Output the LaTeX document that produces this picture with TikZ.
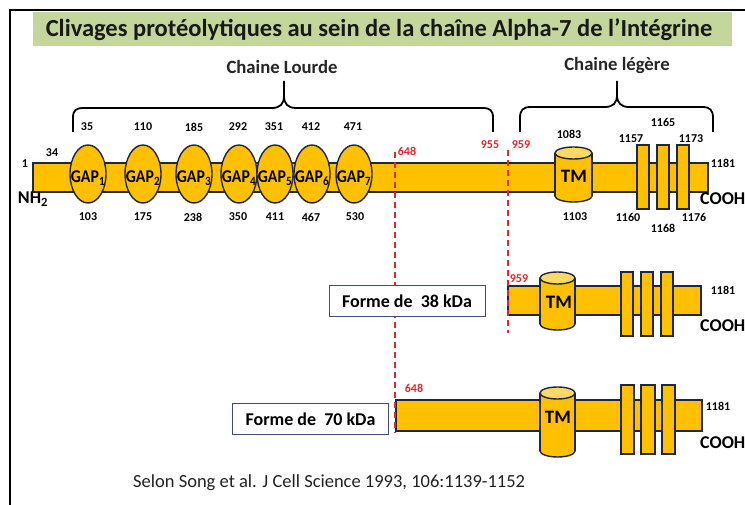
\documentclass[tikz,border=0pt]{standalone}
\usepackage{fontspec}
\setmainfont{Carlito}
\newfontfamily\gapfont[FakeStretch=0.88]{Carlito}
\usetikzlibrary{shapes.geometric}
\definecolor{gold}{HTML}{FFC000}
\definecolor{goldtop}{HTML}{FFD966}
\definecolor{outl}{HTML}{1E2640}
\definecolor{redc}{HTML}{E3262B}
\definecolor{titlegreen}{HTML}{C3D69B}
\definecolor{boxline}{HTML}{3F4F6F}
\definecolor{citec}{HTML}{222222}
\newcommand{\tmcyl}[4]{%
  \filldraw[fill=gold,draw=outl,line width=1.4pt] (#1,#4) ellipse [x radius=#2pt, y radius=6pt];
  \fill[gold] (#1-#2,#3) rectangle (#1+#2,#4);
  \draw[draw=outl,line width=1.4pt] (#1-#2,#3) -- (#1-#2,#4) (#1+#2,#3) -- (#1+#2,#4);
  \filldraw[fill=goldtop,draw=outl,line width=1.4pt] (#1,#3) ellipse [x radius=#2pt, y radius=6pt];
}
\begin{document}
\begin{tikzpicture}[x=1pt,y=-1pt,
  barshape/.style={fill=gold,draw=outl,line width=1.4pt},
  gapell/.style={ellipse,fill=gold,draw=outl,line width=1.4pt,minimum width=36pt,minimum height=58pt,inner sep=0pt},
  gaptxt/.style={inner sep=0pt,font=\gapfont\bfseries\fontsize{18}{18}\selectfont},
  tmtxt/.style={inner sep=0pt,font=\bfseries\fontsize{19}{19}\selectfont},
  numlab/.style={inner sep=0pt,font=\bfseries\fontsize{12}{12}\selectfont},
  redlab/.style={numlab,text=redc},
  endlab/.style={inner sep=0pt,font=\bfseries\fontsize{18}{18}\selectfont},
  reddash/.style={draw=redc,line width=1.8pt,dash pattern=on 6pt off 4pt},
  bracepath/.style={draw=black,line width=1.8pt},
  bracelab/.style={inner sep=0pt,font=\bfseries\fontsize{18.7}{19}\selectfont,text=black!85},
  formebox/.style={draw=boxline,line width=0.9pt,fill=white,minimum width=156pt,minimum height=31pt,inner sep=0pt,font=\bfseries\fontsize{18}{18}\selectfont},
  tmrect/.style={fill=gold,draw=outl,line width=1.4pt}
]
\useasboundingbox (0,0) rectangle (745,505);
\fill[white] (0,0) rectangle (745,505);
% frame
\draw[line width=2pt] (10,505) -- (10,10) -- (745,10);
% title
\fill[titlegreen] (33,12) rectangle (732,46);
\node[inner sep=0pt,font=\bfseries\fontsize{24.5}{25}\selectfont,text=black!90] (title) at (379,30) {Clivages protéolytiques au sein de la chaîne Alpha-7 de l’Intégrine};
% braces
\node[bracelab] (lourde) at (282,67) {Chaine Lourde};
\node[bracelab] (legere) at (617,66) {Chaine légère};
\draw[bracepath] (73,132) -- (73,118) .. controls (73,110) and (76,108) .. (84,108) -- (272,108) .. controls (280,108) and (284,104) .. (284,96) -- (284,81);
\draw[bracepath] (284,96) .. controls (284,104) and (288,108) .. (296,108) -- (482,108) .. controls (490,108) and (493,110) .. (493,118) -- (493,132);
\draw[bracepath] (520,132) -- (520,118) .. controls (520,110) and (523,107) .. (531,107) -- (605,107) .. controls (613,107) and (617,103) .. (617,95) -- (617,81);
\draw[bracepath] (617,95) .. controls (617,103) and (621,107) .. (629,107) -- (702,107) .. controls (710,107) and (713,110) .. (713,118) -- (713,132);

% ===== row 1 =====
\draw[barshape] (33,163) rectangle (708,192);
\foreach \cx/\i in {88/1,143/2,194/3,239/4,275/5,312/6,354/7}{
  \node[gapell] (gap\i) at (\cx,174) {};
}
\foreach \cx/\i in {88/1,143/2,194/3,239/4,275/5,312/6,354/7}{
  \node[gaptxt] (gapt\i) at (\cx,178) {GAP\textsubscript{\i}};
}
\tmcyl{573.5}{18.5}{153}{196}
\node[tmtxt] (tm1) at (574,176) {TM};
\draw[tmrect] (637,145) rectangle (649,209);
\draw[tmrect] (657,145) rectangle (669,209);
\draw[tmrect] (677,145) rectangle (689,209);
% labels row 1
\node[numlab] (n1) at (25,164) {1};
\node[numlab] (n34) at (52,153) {34};
\node[endlab] (nh2) at (33,199) {NH\textsubscript{2}};
\foreach \cx/\t in {87/35,143/110,194/185,238/292,274/351,311/412,353/471}{
  \node[numlab] (top\t) at (\cx,127) {\t};
}
\foreach \cx/\t in {88/103,143/175,193/238,238/350,275/411,311/467,355/530}{
  \node[numlab] (bot\t) at (\cx,217) {\t};
}
\node[numlab] (n1083) at (569,134) {1083};
\node[numlab] (n1103) at (575,217) {1103};
\node[numlab] (n1157) at (631,139) {1157};
\node[numlab] (n1165) at (663,122) {1165};
\node[numlab] (n1173) at (691,139) {1173};
\node[numlab] (n1160) at (628,217) {1160};
\node[numlab] (n1168) at (663,228) {1168};
\node[numlab] (n1176) at (694,217) {1176};
\node[numlab] (n1181a) at (723,163) {1181};
\node[endlab,anchor=west] (cooha) at (700,199) {COOH};
\node[redlab] (r648a) at (407,151) {648};
\node[redlab] (r955) at (490,145) {955};
\node[redlab] (r959a) at (521,145) {959};

% ===== row 2 =====
\draw[barshape] (508,286) rectangle (701,315);
\tmcyl{557.5}{17.5}{278}{324}
\node[tmtxt] (tm2) at (559,302) {TM};
\draw[tmrect] (621,272) rectangle (633,336);
\draw[tmrect] (641,272) rectangle (653,336);
\draw[tmrect] (661,272) rectangle (673,336);
\node[redlab] (r959b) at (519,279) {959};
\node[numlab] (n1181b) at (723,290) {1181};
\node[endlab,anchor=west] (coohb) at (700,326) {COOH};

% ===== row 3 =====
\draw[barshape] (396,400) rectangle (702,431);
\tmcyl{557.5}{17.5}{393}{451}
\node[tmtxt] (tm3) at (558,417) {TM};
\draw[tmrect] (621,385) rectangle (634,454);
\draw[tmrect] (641,385) rectangle (655,454);
\draw[tmrect] (662,385) rectangle (675,454);
\node[redlab] (r648b) at (414,388) {648};
\node[numlab] (n1181c) at (718,406) {1181};
\node[endlab,anchor=west] (coohc) at (700,443) {COOH};

% dashed cut lines
\coordinate (c648top) at (395,152);
\coordinate (c648bot) at (395,433);
\coordinate (c959top) at (508,150);
\coordinate (c959bot) at (508,333);
\draw[reddash] (c648top) -- (c648bot);
\draw[reddash] (c959top) -- (c959bot);

% boxes
\node[formebox] (f38) at (407,301) {Forme de~ 38 kDa};
\node[formebox] (f70) at (310.5,419) {Forme de~ 70 kDa};

% citation
\node[inner sep=0pt,anchor=west,font=\fontsize{18.5}{19}\selectfont,text=citec] (cite) at (133,483) {Selon Song et al. J Cell Science 1993, 106:1139-1152};
\end{tikzpicture}
\end{document}
